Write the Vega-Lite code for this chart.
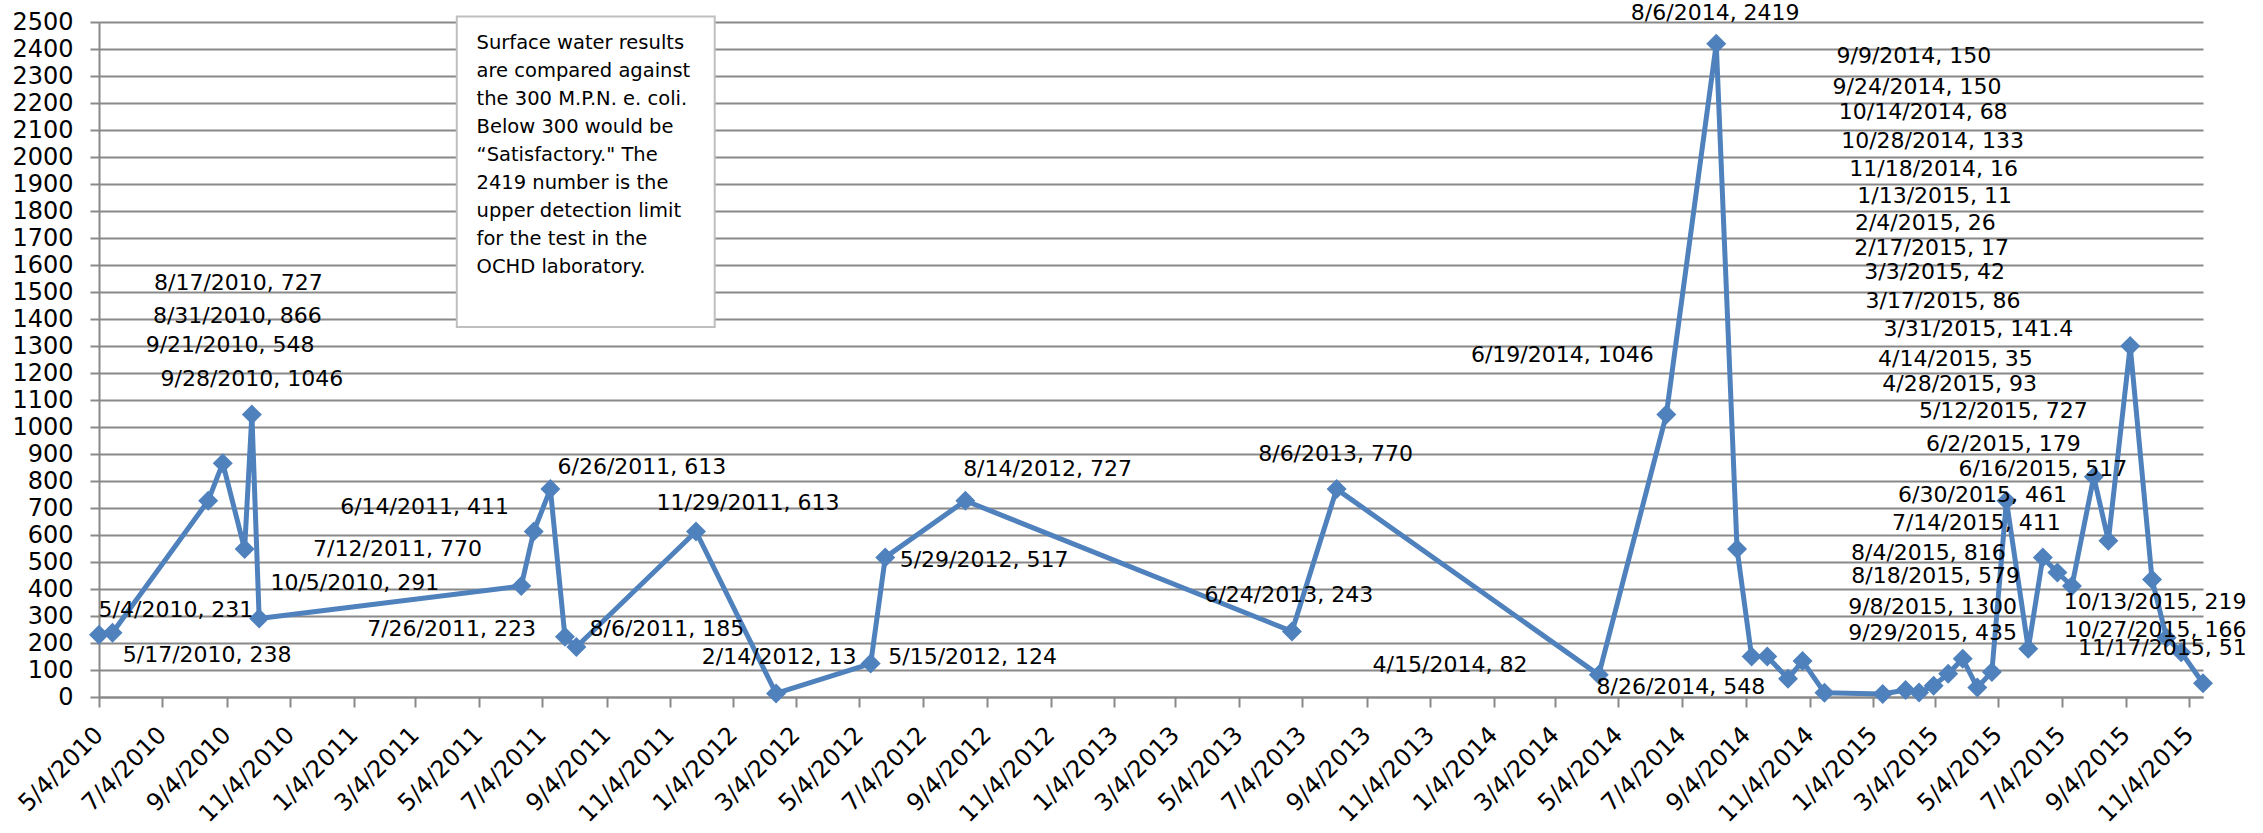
{
  "$schema": "https://vega.github.io/schema/vega-lite/v6.json",
  "width": 2104,
  "height": 675,
  "autosize": "none",
  "padding": {"left": 99, "top": 22, "right": 60, "bottom": 136},
  "background": "white",
  "config": {
    "view": {"stroke": null},
    "font": "DejaVu Sans",
    "text": {"lineBreak": "\n"}
  },
  "datasets": {
    "series": [
      {"date": "2010-05-04", "value": 231},
      {"date": "2010-05-17", "value": 238},
      {"date": "2010-08-17", "value": 727},
      {"date": "2010-08-31", "value": 866},
      {"date": "2010-09-21", "value": 548},
      {"date": "2010-09-28", "value": 1046},
      {"date": "2010-10-05", "value": 291},
      {"date": "2011-06-14", "value": 411},
      {"date": "2011-06-26", "value": 613},
      {"date": "2011-07-12", "value": 770},
      {"date": "2011-07-26", "value": 223},
      {"date": "2011-08-06", "value": 185},
      {"date": "2011-11-29", "value": 613},
      {"date": "2012-02-14", "value": 13},
      {"date": "2012-05-15", "value": 124},
      {"date": "2012-05-29", "value": 517},
      {"date": "2012-08-14", "value": 727},
      {"date": "2013-06-24", "value": 243},
      {"date": "2013-08-06", "value": 770},
      {"date": "2014-04-15", "value": 82},
      {"date": "2014-06-19", "value": 1046},
      {"date": "2014-08-06", "value": 2419},
      {"date": "2014-08-26", "value": 548},
      {"date": "2014-09-09", "value": 150},
      {"date": "2014-09-24", "value": 150},
      {"date": "2014-10-14", "value": 68},
      {"date": "2014-10-28", "value": 133},
      {"date": "2014-11-18", "value": 16},
      {"date": "2015-01-13", "value": 11},
      {"date": "2015-02-04", "value": 26},
      {"date": "2015-02-17", "value": 17},
      {"date": "2015-03-03", "value": 42},
      {"date": "2015-03-17", "value": 86},
      {"date": "2015-03-31", "value": 141.4},
      {"date": "2015-04-14", "value": 35},
      {"date": "2015-04-28", "value": 93},
      {"date": "2015-05-12", "value": 727},
      {"date": "2015-06-02", "value": 179},
      {"date": "2015-06-16", "value": 517},
      {"date": "2015-06-30", "value": 461},
      {"date": "2015-07-14", "value": 411},
      {"date": "2015-08-04", "value": 816},
      {"date": "2015-08-18", "value": 579},
      {"date": "2015-09-08", "value": 1300},
      {"date": "2015-09-29", "value": 435},
      {"date": "2015-10-13", "value": 219},
      {"date": "2015-10-27", "value": 166},
      {"date": "2015-11-17", "value": 51}
    ],
    "labels": [
      {"label": "8/17/2010, 727", "date": "2010-09-15", "value": 1533},
      {"label": "8/31/2010, 866", "date": "2010-09-14", "value": 1411},
      {"label": "9/21/2010, 548", "date": "2010-09-07", "value": 1304},
      {"label": "9/28/2010, 1046", "date": "2010-09-28", "value": 1178},
      {"label": "10/5/2010, 291", "date": "2011-01-05", "value": 421},
      {"label": "5/4/2010, 231", "date": "2010-07-17", "value": 321},
      {"label": "5/17/2010, 238", "date": "2010-08-16", "value": 155},
      {"label": "6/14/2011, 411", "date": "2011-03-13", "value": 705},
      {"label": "6/26/2011, 613", "date": "2011-10-08", "value": 853},
      {"label": "7/12/2011, 770", "date": "2011-02-15", "value": 550},
      {"label": "7/26/2011, 223", "date": "2011-04-08", "value": 251},
      {"label": "8/6/2011, 185", "date": "2011-11-01", "value": 251},
      {"label": "11/29/2011, 613", "date": "2012-01-18", "value": 720},
      {"label": "2/14/2012, 13", "date": "2012-02-17", "value": 148},
      {"label": "5/15/2012, 124", "date": "2012-08-21", "value": 148},
      {"label": "5/29/2012, 517", "date": "2012-09-01", "value": 506},
      {"label": "8/14/2012, 727", "date": "2012-11-01", "value": 846},
      {"label": "6/24/2013, 243", "date": "2013-06-21", "value": 377},
      {"label": "8/6/2013, 770", "date": "2013-08-05", "value": 901},
      {"label": "4/15/2014, 82", "date": "2013-11-23", "value": 118},
      {"label": "6/19/2014, 1046", "date": "2014-03-11", "value": 1267},
      {"label": "8/6/2014, 2419", "date": "2014-08-05", "value": 2535},
      {"label": "8/26/2014, 548", "date": "2014-07-03", "value": 37},
      {"label": "9/9/2014, 150", "date": "2015-02-12", "value": 2374},
      {"label": "9/24/2014, 150", "date": "2015-02-15", "value": 2260},
      {"label": "10/14/2014, 68", "date": "2015-02-21", "value": 2168},
      {"label": "10/28/2014, 133", "date": "2015-03-02", "value": 2061},
      {"label": "11/18/2014, 16", "date": "2015-03-03", "value": 1957},
      {"label": "1/13/2015, 11", "date": "2015-03-04", "value": 1857},
      {"label": "2/4/2015, 26", "date": "2015-02-23", "value": 1754},
      {"label": "2/17/2015, 17", "date": "2015-03-01", "value": 1662},
      {"label": "3/3/2015, 42", "date": "2015-03-04", "value": 1573},
      {"label": "3/17/2015, 86", "date": "2015-03-12", "value": 1466},
      {"label": "3/31/2015, 141.4", "date": "2015-04-15", "value": 1363},
      {"label": "4/14/2015, 35", "date": "2015-03-24", "value": 1252},
      {"label": "4/28/2015, 93", "date": "2015-03-28", "value": 1160},
      {"label": "5/12/2015, 727", "date": "2015-05-09", "value": 1060},
      {"label": "6/2/2015, 179", "date": "2015-05-09", "value": 938},
      {"label": "6/16/2015, 517", "date": "2015-06-16", "value": 846},
      {"label": "6/30/2015, 461", "date": "2015-04-19", "value": 750},
      {"label": "7/14/2015, 411", "date": "2015-04-13", "value": 643},
      {"label": "8/4/2015, 816", "date": "2015-02-26", "value": 532},
      {"label": "8/18/2015, 579", "date": "2015-03-05", "value": 447},
      {"label": "9/8/2015, 1300", "date": "2015-03-02", "value": 332},
      {"label": "9/29/2015, 435", "date": "2015-03-02", "value": 236},
      {"label": "10/13/2015, 219", "date": "2015-10-02", "value": 351},
      {"label": "10/27/2015, 166", "date": "2015-10-02", "value": 247},
      {"label": "11/17/2015, 51", "date": "2015-10-09", "value": 181}
    ],
    "note": [
      {"start": "2011-04-13", "end": "2011-12-17", "top": 2520, "bottom": 1370, "textDate": "2011-05-02", "textValue": 2422,
       "text": "Surface water results\nare compared against\nthe 300 M.P.N. e. coli.\nBelow 300 would be\n\u201cSatisfactory.\" The\n2419 number is the\nupper detection limit\nfor the test in the\nOCHD laboratory."}
    ]
  },
  "encoding": {
    "x": {
      "field": "date", "type": "temporal",
      "scale": {"type": "utc", "domain": [{"year": 2010, "month": 5, "date": 4, "utc": true}, {"year": 2015, "month": 11, "date": 17, "utc": true}], "nice": false},
      "axis": {
        "title": null,
        "format": "%-m/%-d/%Y",
        "tickCount": 60,
        "values": [
          {"year": 2010, "month": 5, "date": 4, "utc": true},
          {"year": 2010, "month": 7, "date": 4, "utc": true},
          {"year": 2010, "month": 9, "date": 4, "utc": true},
          {"year": 2010, "month": 11, "date": 4, "utc": true},
          {"year": 2011, "month": 1, "date": 4, "utc": true},
          {"year": 2011, "month": 3, "date": 4, "utc": true},
          {"year": 2011, "month": 5, "date": 4, "utc": true},
          {"year": 2011, "month": 7, "date": 4, "utc": true},
          {"year": 2011, "month": 9, "date": 4, "utc": true},
          {"year": 2011, "month": 11, "date": 4, "utc": true},
          {"year": 2012, "month": 1, "date": 4, "utc": true},
          {"year": 2012, "month": 3, "date": 4, "utc": true},
          {"year": 2012, "month": 5, "date": 4, "utc": true},
          {"year": 2012, "month": 7, "date": 4, "utc": true},
          {"year": 2012, "month": 9, "date": 4, "utc": true},
          {"year": 2012, "month": 11, "date": 4, "utc": true},
          {"year": 2013, "month": 1, "date": 4, "utc": true},
          {"year": 2013, "month": 3, "date": 4, "utc": true},
          {"year": 2013, "month": 5, "date": 4, "utc": true},
          {"year": 2013, "month": 7, "date": 4, "utc": true},
          {"year": 2013, "month": 9, "date": 4, "utc": true},
          {"year": 2013, "month": 11, "date": 4, "utc": true},
          {"year": 2014, "month": 1, "date": 4, "utc": true},
          {"year": 2014, "month": 3, "date": 4, "utc": true},
          {"year": 2014, "month": 5, "date": 4, "utc": true},
          {"year": 2014, "month": 7, "date": 4, "utc": true},
          {"year": 2014, "month": 9, "date": 4, "utc": true},
          {"year": 2014, "month": 11, "date": 4, "utc": true},
          {"year": 2015, "month": 1, "date": 4, "utc": true},
          {"year": 2015, "month": 3, "date": 4, "utc": true},
          {"year": 2015, "month": 5, "date": 4, "utc": true},
          {"year": 2015, "month": 7, "date": 4, "utc": true},
          {"year": 2015, "month": 9, "date": 4, "utc": true},
          {"year": 2015, "month": 11, "date": 4, "utc": true}
        ],
        "grid": false,
        "domain": true, "domainColor": "#898989", "domainWidth": 2,
        "ticks": true, "tickColor": "#898989", "tickWidth": 2, "tickSize": 10,
        "labelAngle": -45, "labelAlign": "right", "labelBaseline": "middle",
        "labelPadding": 24, "labelOffset": 0, "labelFontSize": 24, "labelColor": "#000000",
        "labelFont": "DejaVu Sans", "labelOverlap": false, "labelFlush": false
      }
    },
    "y": {
      "field": "value", "type": "quantitative",
      "scale": {"domain": [0, 2500], "nice": false, "zero": true},
      "axis": {
        "title": null,
        "values": [0,100,200,300,400,500,600,700,800,900,1000,1100,1200,1300,1400,1500,1600,1700,1800,1900,2000,2100,2200,2300,2400,2500],
        "tickCount": 40,
        "format": "d",
        "grid": true, "gridColor": "#898989", "gridWidth": 2,
        "domain": true, "domainColor": "#898989", "domainWidth": 2,
        "ticks": true, "tickColor": "#898989", "tickWidth": 2, "tickSize": 9,
        "labelPadding": 17, "labelFontSize": 24, "labelColor": "#000000",
        "labelFont": "DejaVu Sans", "labelOverlap": false, "labelFlush": false
      }
    }
  },
  "layer": [
    {
      "data": {"name": "series"},
      "mark": {"type": "line", "color": "#4F81BD", "strokeWidth": 5, "strokeJoin": "round"}
    },
    {
      "data": {"name": "series"},
      "mark": {"type": "point", "shape": "diamond", "filled": true, "size": 400, "color": "#4F81BD", "opacity": 1}
    },
    {
      "data": {"name": "labels"},
      "mark": {"type": "text", "fontSize": 22, "font": "DejaVu Sans", "color": "#000000", "align": "center", "baseline": "middle"},
      "encoding": {
        "text": {"field": "label"}
      }
    },
    {
      "data": {"name": "note"},
      "mark": {"type": "rect", "fill": "white", "stroke": "#BFBFBF", "strokeWidth": 2},
      "encoding": {
        "x": {"field": "start", "type": "temporal"},
        "x2": {"field": "end"},
        "y": {"field": "top", "type": "quantitative"},
        "y2": {"field": "bottom"}
      }
    },
    {
      "data": {"name": "note"},
      "mark": {"type": "text", "fontSize": 19.5, "font": "DejaVu Sans", "color": "#000000", "align": "left", "baseline": "middle", "lineHeight": 28},
      "encoding": {
        "x": {"field": "textDate", "type": "temporal"},
        "y": {"field": "textValue", "type": "quantitative"},
        "text": {"field": "text"}
      }
    }
  ]
}
